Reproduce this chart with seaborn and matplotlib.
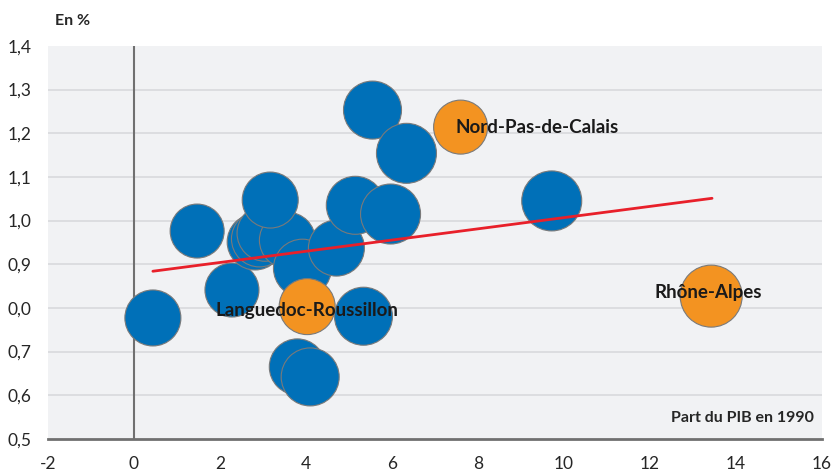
import matplotlib
matplotlib.use("Agg")
import matplotlib.pyplot as plt
import seaborn as sns
import pandas as pd

# Part du PIB en 1990 (x) vs croissance (y), one bubble per region
pib_1990 = [0.44, 1.47, 2.28, 2.82, 2.92, 3.05, 3.57, 3.17, 3.92, 4.71,
            5.15, 5.97, 5.55, 6.34, 5.34, 3.80, 4.10, 9.72,
            4.03, 7.60, 13.43]
croissance = [0.777, 0.976, 0.841, 0.951, 0.958, 0.971, 0.955, 1.047, 0.891, 0.937,
              1.035, 1.015, 1.253, 1.154, 0.781, 0.665, 0.642, 1.045,
              0.803, 1.214, 0.827]
poids = [28, 27, 27, 28, 28, 28, 28, 28, 29, 28,
         29, 30, 29, 30, 29, 28, 29, 30,
         28, 27, 31]
groupe = ["autre"] * 18 + ["cible"] * 3

noms = ["Languedoc-Roussillon", "Nord-Pas-de-Calais", "Rhône-Alpes"]
noms_x = [1.89, 7.48, 12.12]
noms_y = [0.793, 1.214, 0.836]

tendance_x = [0.44, 13.45]
tendance_y = [0.884, 1.051]

xticks = [-2, 0, 2, 4, 6, 8, 10, 12, 14, 16]
yticks = [0.5, 0.6, 0.7, 0.8, 0.9, 1.0, 1.1, 1.2, 1.3, 1.4]
ytick_labels = ["0,5", "0,6", "0,7", "0,0", "0,9", "1,0", "1,1", "1,2", "1,3", "1,4"]

df = pd.DataFrame({"pib": pib_1990, "croissance": croissance,
                   "poids": poids, "groupe": groupe})

sns.set_style("white")
plt.rcParams["font.family"] = ["Lato", "DejaVu Sans"]

fig = plt.figure(figsize=(8.35, 4.73), dpi=100)
ax = fig.add_axes([0.0575, 0.072, 0.9265, 0.831])
ax.set_facecolor("#f1f2f4")

for y in yticks[1:-1]:
    ax.axhline(y, color="#d8d9dc", lw=1.2, zorder=0)

ax.axvline(0, color="#707070", lw=1.5, zorder=1)

# marker area in pt^2 from radius in px
df["s"] = (df["poids"] * 2 * 0.72) ** 2
sns.scatterplot(data=df, x="pib", y="croissance", hue="groupe",
                palette={"autre": "#0070b8", "cible": "#f39321"},
                size="s", sizes=(df["s"].min(), df["s"].max()),
                edgecolor="#7a7a7a", linewidth=0.8, alpha=1,
                legend=False, ax=ax, zorder=3)

sns.lineplot(x=tendance_x, y=tendance_y, color="#e8202a", lw=2, ax=ax, zorder=4)

for nom, tx, ty in zip(noms, noms_x, noms_y):
    ax.text(tx, ty, nom, fontsize=13.5, fontweight="bold", color="#1a1a1a",
            va="center", ha="left", zorder=5)

ax.set_xlim(-2, 16)
ax.set_ylim(0.5, 1.4)
ax.set_xticks(xticks)
ax.set_xticklabels([str(t) for t in xticks], fontsize=12.5)
ax.set_yticks(yticks)
ax.set_yticklabels(ytick_labels, fontsize=12.5)
ax.tick_params(axis="x", length=8, width=1.2, color="#707070", pad=4)
ax.tick_params(axis="y", length=4, width=1, color="#d0d0d0", pad=8)
ax.set_xlabel("")
ax.set_ylabel("")

for side in ["top", "right", "left"]:
    ax.spines[side].set_visible(False)
ax.spines["bottom"].set_color("#707070")
ax.spines["bottom"].set_linewidth(2)

fig.text(0.066, 0.955, "En %", fontsize=11.5, fontweight="bold", ha="left", va="center")
ax.text(0.99, 0.035, "Part du PIB en 1990", transform=ax.transAxes,
        fontsize=11.5, fontweight="bold", ha="right", va="bottom")

fig.savefig("out.png", dpi=100)
